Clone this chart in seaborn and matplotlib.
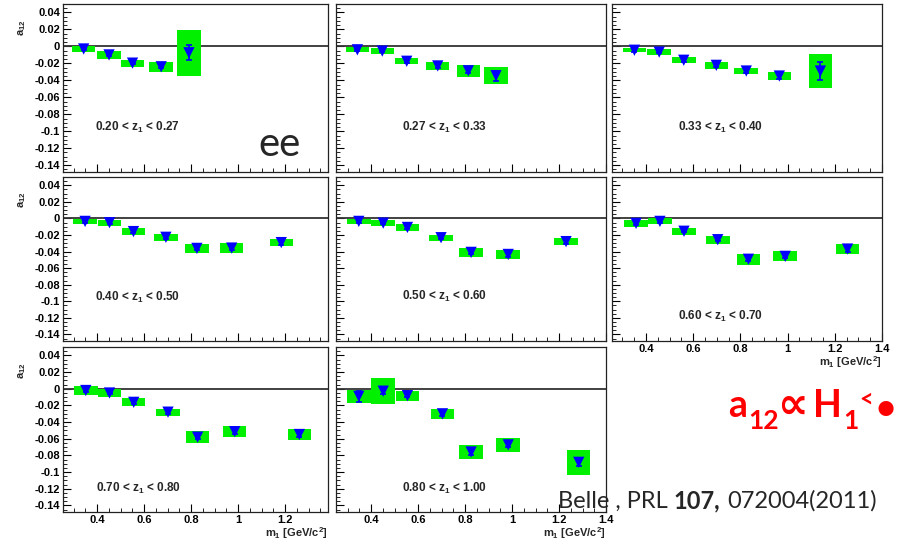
import numpy as np
import pandas as pd
import matplotlib
matplotlib.use("Agg")
import matplotlib.pyplot as plt
import seaborn as sns
from matplotlib.ticker import MultipleLocator, FixedLocator, FuncFormatter

# ---------------- data ----------------
z_lo = ["0.20", "0.27", "0.33", "0.40", "0.50", "0.60", "0.70", "0.80"]
z_hi = ["0.27", "0.33", "0.40", "0.50", "0.60", "0.70", "0.80", "1.00"]

m1_mean = [
    [0.343, 0.451, 0.551, 0.673, 0.791],
    [0.342, 0.448, 0.552, 0.684, 0.814, 0.932],
    [0.351, 0.456, 0.560, 0.698, 0.825, 0.965, 1.139],
    [0.349, 0.453, 0.555, 0.693, 0.825, 0.973, 1.184],
    [0.348, 0.452, 0.555, 0.698, 0.826, 0.984, 1.230],
    [0.358, 0.459, 0.561, 0.704, 0.834, 0.990, 1.254],
    [0.352, 0.453, 0.556, 0.702, 0.828, 0.986, 1.261],
    [0.348, 0.452, 0.555, 0.704, 0.826, 0.984, 1.284],
]
a12 = [
    [-0.0030, -0.0100, -0.0197, -0.0240, -0.0075],
    [-0.0040, -0.0055, -0.0175, -0.0230, -0.0287, -0.0345],
    [-0.0045, -0.0067, -0.0163, -0.0223, -0.0290, -0.0349, -0.0290],
    [-0.0036, -0.0052, -0.0159, -0.0228, -0.0362, -0.0358, -0.0292],
    [-0.0036, -0.0057, -0.0109, -0.0233, -0.0410, -0.0435, -0.0280],
    [-0.0060, -0.0036, -0.0155, -0.0257, -0.0493, -0.0458, -0.0370],
    [-0.0022, -0.0052, -0.0164, -0.0282, -0.0582, -0.0516, -0.0550],
    [-0.0092, -0.0030, -0.0084, -0.0302, -0.0760, -0.0674, -0.0884],
]
stat_err = [
    [0.0015, 0.0015, 0.0015, 0.0020, 0.0090],
    [0.0015, 0.0015, 0.0015, 0.0020, 0.0025, 0.0060],
    [0.0015, 0.0015, 0.0015, 0.0020, 0.0025, 0.0030, 0.0110],
    [0.0015, 0.0015, 0.0015, 0.0020, 0.0020, 0.0025, 0.0025],
    [0.0015, 0.0015, 0.0015, 0.0020, 0.0020, 0.0025, 0.0025],
    [0.0015, 0.0015, 0.0015, 0.0020, 0.0025, 0.0025, 0.0030],
    [0.0015, 0.0015, 0.0015, 0.0020, 0.0025, 0.0025, 0.0030],
    [0.0070, 0.0030, 0.0020, 0.0025, 0.0030, 0.0030, 0.0040],
]
syst_err = [
    [0.0030, 0.0043, 0.0040, 0.0060, 0.0270],
    [0.0030, 0.0035, 0.0033, 0.0050, 0.0070, 0.0100],
    [0.0026, 0.0035, 0.0033, 0.0040, 0.0040, 0.0050, 0.0195],
    [0.0028, 0.0036, 0.0040, 0.0042, 0.0050, 0.0058, 0.0046],
    [0.0030, 0.0038, 0.0042, 0.0036, 0.0052, 0.0052, 0.0047],
    [0.0040, 0.0035, 0.0040, 0.0047, 0.0067, 0.0060, 0.0065],
    [0.0054, 0.0052, 0.0048, 0.0042, 0.0070, 0.0068, 0.0070],
    [0.0080, 0.0154, 0.0060, 0.0062, 0.0080, 0.0086, 0.0148],
]
x_ticks = [0.4, 0.6, 0.8, 1.0, 1.2, 1.4]
y_ticks = [0.04, 0.02, 0.0, -0.02, -0.04, -0.06, -0.08, -0.10, -0.12, -0.14]

# ---------------- style ----------------
sns.set_theme(style="white")
plt.rcParams.update({
    "font.family": ["Liberation Sans", "DejaVu Sans"],
    "font.weight": "bold",
    "axes.unicode_minus": False,
    "mathtext.fontset": "custom",
    "mathtext.rm": "Liberation Sans:bold",
    "mathtext.it": "Liberation Sans:bold",
    "mathtext.bf": "Lato:bold",
    "mathtext.sf": "Lato",
})

W, H = 897, 546
fig = plt.figure(figsize=(W / 100, H / 100), dpi=100)

col_px = [(63, 328), (336, 606), (612, 882)]
row_px = [(4, 172), (177, 341), (347, 512)]
col_xlim = [(0.255, 1.383), (0.251, 1.40), (0.256, 1.40)]
label_pos = [(0.393, -0.0996), (0.530, -0.0996), (0.537, -0.0996),
             (0.393, -0.0993), (0.530, -0.0980), (0.537, -0.1230),
             (0.395, -0.1244), (0.530, -0.1244)]

GREEN = "#00f000"
BLUE = "#0000ff"

fmt = FuncFormatter(lambda v, p: "%g" % round(v, 4))

for i in range(8):
    r, c = divmod(i, 3)
    (x0, x1), (y0, y1) = col_px[c], row_px[r]
    ax = fig.add_axes([x0 / W, 1 - y1 / H, (x1 - x0) / W, (y1 - y0) / H])
    df = pd.DataFrame({"m1": m1_mean[i], "a12": a12[i],
                       "stat": stat_err[i], "syst": syst_err[i]})
    ax.bar(df["m1"], 2 * df["syst"], width=0.1, bottom=df["a12"] - df["syst"],
           color=GREEN, edgecolor="none", zorder=2)
    ax.axhline(0, color="#333333", lw=1.3, zorder=1)
    ax.errorbar(df["m1"], df["a12"], yerr=df["stat"], fmt="none",
                ecolor=BLUE, elinewidth=1.2, capsize=2.2, capthick=1.2, zorder=3)
    sns.scatterplot(data=df, x="m1", y="a12", marker="v", s=66, color=BLUE,
                    edgecolor="none", linewidth=0, ax=ax, zorder=4, legend=False)
    ax.set_xlim(*col_xlim[c])
    ax.set_ylim(-0.148, 0.05)
    ax.set_xlabel("")
    ax.set_ylabel("")
    ax.xaxis.set_major_locator(FixedLocator(x_ticks))
    ax.xaxis.set_minor_locator(MultipleLocator(0.05))
    ax.yaxis.set_major_locator(FixedLocator(y_ticks))
    ax.yaxis.set_minor_locator(MultipleLocator(0.005))
    ax.xaxis.set_major_formatter(fmt)
    ax.yaxis.set_major_formatter(fmt)
    ax.tick_params(which="both", direction="in", colors="black", labelsize=8,
                   pad=2, top=False, right=False, bottom=True, left=True)
    ax.tick_params(which="major", length=6, width=0.8)
    ax.tick_params(which="minor", length=3, width=0.6)
    show_x = (r == 2) or (r == 1 and c == 2)
    ax.tick_params(axis="x", labelbottom=show_x)
    ax.tick_params(axis="y", labelleft=(c == 0))
    for sp in ax.spines.values():
        sp.set_color("#222222")
        sp.set_linewidth(0.9)
    lx, ly = label_pos[i]
    ax.text(lx, ly, "%s < z$_1$ < %s" % (z_lo[i], z_hi[i]), fontsize=8.5,
            fontweight="bold", ha="left", va="baseline")
    if c == 0:
        ax.text(-0.153, 0.91, "a$_{12}$", rotation=90, fontsize=8,
                ha="center", va="top", transform=ax.transAxes)
    if show_x:
        ax.text(1.0, -21 / (y1 - y0), "m$_1$ [GeV/c$^2$]", fontsize=8,
                ha="right", va="center", transform=ax.transAxes)

# annotations
fig.text(258 / W, 1 - 156 / H, "ee", fontsize=29, family="Lato",
         fontweight="normal", ha="left", va="baseline")

# red formula, built from pieces: a_12 ∝ H_1^{<•}
red_pieces = [
    ("a", 728, 417, 27, ["Lato", "DejaVu Sans"]),
    ("12", 748, 429, 19, ["Lato", "DejaVu Sans"]),
    ("\u221d", 777, 418, 31, ["DejaVu Sans"]),
    ("H", 813, 417, 27, ["Lato", "DejaVu Sans"]),
    ("1", 843, 429, 19, ["Lato", "DejaVu Sans"]),
    ("<", 859, 407, 17, ["Lato", "DejaVu Sans"]),
    ("\u2022", 875, 419, 25, ["Lato", "DejaVu Sans"]),
]
for txt, px, py, fs, fam in red_pieces:
    fig.text(px / W, 1 - py / H, txt, fontsize=fs, family=fam,
             fontweight="bold", color="#ff0000", ha="left", va="baseline")

# citation: pieces chained by measured widths
renderer = fig.canvas.get_renderer()
cite_pieces = [("Belle , PRL", "normal", 6), ("107,", "bold", 7),
               ("072004(2011)", "normal", 0)]
cx = 558
for txt, wt, gap in cite_pieces:
    t = fig.text(cx / W, 1 - 508 / H, txt, fontsize=17, family="Lato",
                 fontweight=wt, ha="left", va="baseline", zorder=10)
    bb = t.get_window_extent(renderer=renderer)
    cx = bb.x1 + gap

fig.savefig("out.png", dpi=100)
